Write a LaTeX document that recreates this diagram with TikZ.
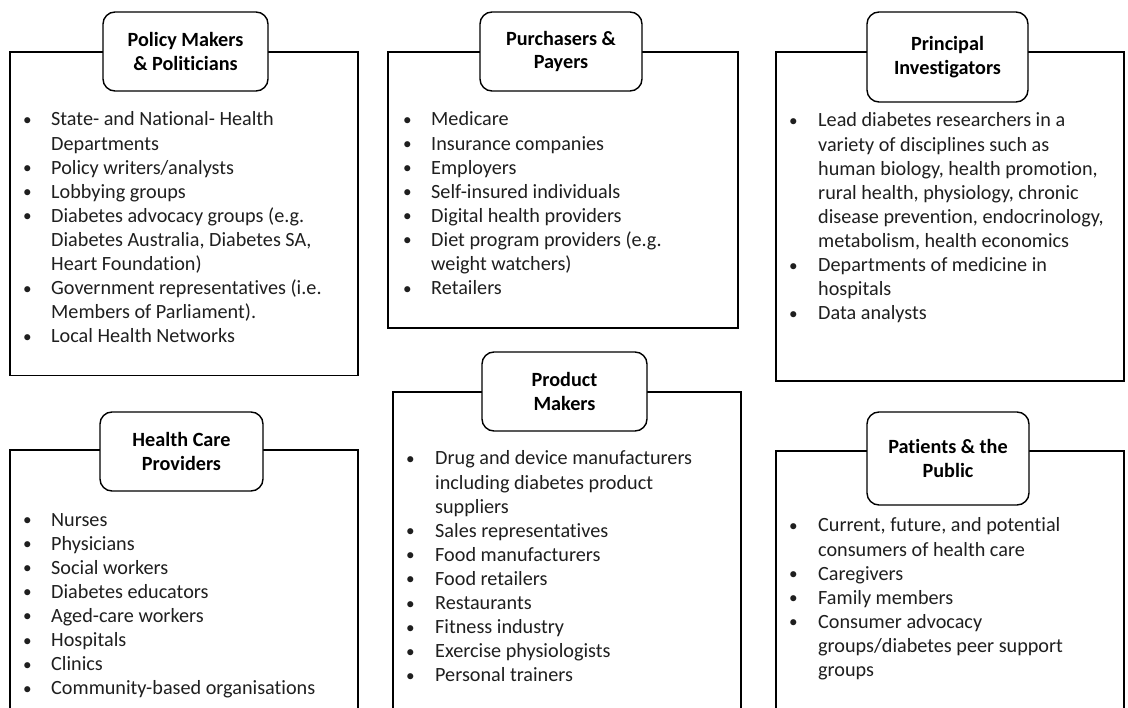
\documentclass[tikz,border=0pt]{standalone}
\usepackage{fontspec}
\setmainfont{Carlito}[Ligatures=NoCommon]
\usepackage{array}
\newcommand\bul{\raisebox{0.5pt}{\scalebox{0.85}{\textbullet}}}
\begin{document}
\begin{tikzpicture}[x=1pt,y=-1pt,
  frame/.style={draw=black,line width=1.1pt},
  titlebox/.style={draw=black,fill=white,line width=1.4pt,rounded corners=12pt,inner sep=0pt,align=center,
    font=\fontsize{20.2}{23.5}\selectfont\bfseries},
  itemlist/.style={anchor=base west,inner sep=0pt,text=black!88,font=\fontsize{20.2}{24.1}\selectfont}]
\useasboundingbox (0,0) rectangle (1128,708);
\clip (0,0) rectangle (1128,708);
\fill[white] (0,0) rectangle (1128,708);

% ---- Policy Makers
\draw[frame] (10,52) rectangle (358,375.5);
\node[titlebox,minimum width=165pt,minimum height=79pt] (t1) at (185.5,51.5) {Policy Makers\\\& Politicians};
\node[itemlist] (l1) at (23,126) {\begin{tabular}[t]{@{}p{28pt}@{}l@{}}
\bul & State- and National- Health\\
 & Departments\\
\bul & Policy writers/analysts\\
\bul & Lobbying groups\\
\bul & Diabetes advocacy groups (e.g.\\
 & Diabetes Australia, Diabetes SA,\\
 & Heart Foundation)\\
\bul & Government representatives (i.e.\\
 & Members of Parliament).\\
\bul & Local Health Networks
\end{tabular}};

% ---- Purchasers
\draw[frame] (388,52) rectangle (738,328);
\node[titlebox,minimum width=162pt,minimum height=79pt] (t2) at (561,51.5) {Purchasers \&\\Payers};
\node[itemlist] (l2) at (403,126) {\begin{tabular}[t]{@{}p{28pt}@{}l@{}}
\bul & Medicare\\
\bul & Insurance companies\\
\bul & Employers\\
\bul & Self-insured individuals\\
\bul & Digital health providers\\
\bul & Diet program providers (e.g.\\
 & weight watchers)\\
\bul & Retailers
\end{tabular}};

% ---- Principal Investigators
\draw[frame] (776,52) rectangle (1124,381);
\node[titlebox,minimum width=161pt,minimum height=90pt] (t3) at (947.5,57) {Principal\\Investigators};
\node[itemlist] (l3) at (789,127) {\begin{tabular}[t]{@{}p{29pt}@{}l@{}}
\bul & Lead diabetes researchers in a\\
 & variety of disciplines such as\\
 & human biology, health promotion,\\
 & rural health, physiology, chronic\\
 & disease prevention, endocrinology,\\
 & metabolism, health economics\\
\bul & Departments of medicine in\\
 & hospitals\\
\bul & Data analysts
\end{tabular}};

% ---- Health Care Providers
\draw[frame] (10,720) -- (10,450) -- (358,450) -- (358,720);
\node[titlebox,minimum width=163pt,minimum height=79pt] (t4) at (181.5,451.5) {Health Care\\Providers};
\node[itemlist] (l4) at (23,526) {\begin{tabular}[t]{@{}p{28pt}@{}l@{}}
\bul & Nurses\\
\bul & Physicians\\
\bul & Social workers\\
\bul & Diabetes educators\\
\bul & Aged-care workers\\
\bul & Hospitals\\
\bul & Clinics\\
\bul & Community-based organisations
\end{tabular}};

% ---- Product Makers
\draw[frame] (393,720) -- (393,392) -- (741,392) -- (741,720);
\node[titlebox,minimum width=165pt,minimum height=79pt] (t5) at (564.5,391.5) {Product\\Makers};
\node[itemlist] (l5) at (406,465) {\begin{tabular}[t]{@{}p{29pt}@{}l@{}}
\bul & Drug and device manufacturers\\
 & including diabetes product\\
 & suppliers\\
\bul & Sales representatives\\
\bul & Food manufacturers\\
\bul & Food retailers\\
\bul & Restaurants\\
\bul & Fitness industry\\
\bul & Exercise physiologists\\
\bul & Personal trainers
\end{tabular}};

% ---- Patients & the Public
\draw[frame] (776,720) -- (776,451) -- (1124,451) -- (1124,720);
\node[titlebox,minimum width=162pt,minimum height=93pt] (t6) at (948,458.5) {Patients \& the\\Public};
\node[itemlist] (l6) at (789,532) {\begin{tabular}[t]{@{}p{29pt}@{}l@{}}
\bul & Current, future, and potential\\
 & consumers of health care\\
\bul & Caregivers\\
\bul & Family members\\
\bul & Consumer advocacy\\
 & groups/diabetes peer support\\
 & groups
\end{tabular}};
\end{tikzpicture}
\end{document}
